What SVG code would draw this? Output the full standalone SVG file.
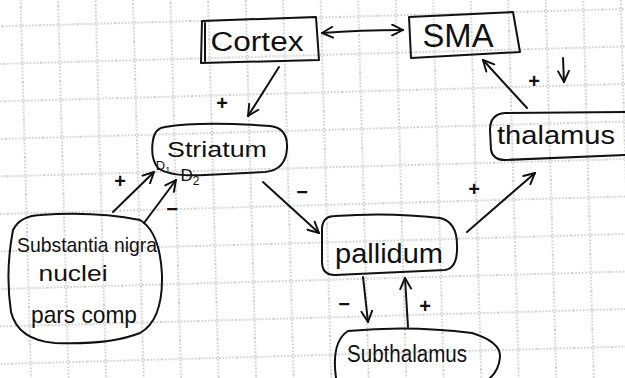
<svg xmlns="http://www.w3.org/2000/svg" width="625" height="378" viewBox="0 0 625 378">
  <defs>
    <pattern id="grid" width="37.5" height="37.5" patternUnits="userSpaceOnUse" patternTransform="rotate(-1.6) translate(1.75 7.65)">
      <path d="M0 18.75 H37.5 M18.75 0 V37.5" stroke="#9a9a9a" stroke-width="1" stroke-dasharray="1.5 1.8" fill="none"/>
    </pattern>
    <marker id="head" viewBox="0 0 12 12" refX="11" refY="6" markerWidth="13" markerHeight="13" markerUnits="userSpaceOnUse" orient="auto-start-reverse">
      <path d="M1 1 L11 6 L1 11" fill="none" stroke="#111" stroke-width="1.8" stroke-linecap="round" stroke-linejoin="round"/>
    </marker>
  </defs>
  <style>
    .ink { fill: none; stroke: #111; stroke-width: 2; stroke-linecap: round; stroke-linejoin: round; }
    .edge { fill: none; stroke: #111; stroke-width: 2; stroke-linecap: round; marker-end: url(#head); }
    .lbl { font-family: "Liberation Sans", Arial, sans-serif; fill: #111; text-anchor: middle; }
    .sign { font-family: "Liberation Sans", Arial, sans-serif; fill: #111; font-size: 20px; font-weight: bold; text-anchor: middle; }
  </style>

  <rect width="625" height="378" fill="#fff"/>
  <rect width="625" height="378" fill="url(#grid)"/>

  <!-- nodes -->
  <g id="cortex">
    <path class="ink" d="M202 21 L316 17 L319 60 L201 63 Z"/>
    <path class="ink" d="M205 23 L205 61"/>
    <text class="lbl" x="257" y="51" font-size="27" textLength="93" lengthAdjust="spacingAndGlyphs">Cortex</text>
  </g>

  <g id="sma">
    <path class="ink" d="M409 17 L513 12 L520 52 L411 58 Z"/>
    <text class="lbl" x="458" y="47" font-size="34" textLength="71" lengthAdjust="spacingAndGlyphs">SMA</text>
  </g>

  <g id="striatum">
    <path class="ink" d="M165 127 Q200 121 270 126 Q288 128 287 148 Q286 170 265 172 L205 175 Q170 177 158 168 Q150 158 153 140 Q155 128 165 127 Z"/>
    <text class="lbl" x="217" y="157" font-size="22" textLength="100" lengthAdjust="spacingAndGlyphs">Striatum</text>
    <text class="lbl" x="163" y="170" font-size="13">D<tspan font-size="9" dy="3">1</tspan></text>
    <text class="lbl" x="190" y="181" font-size="17">D<tspan font-size="12" dy="4">2</tspan></text>
  </g>

  <g id="thalamus">
    <path class="ink" d="M625 112 L505 113 Q490 114 490 130 L491 150 Q493 160 505 160 L625 155"/>
    <text class="lbl" x="556" y="144" font-size="25" textLength="118" lengthAdjust="spacingAndGlyphs">thalamus</text>
  </g>

  <g id="pallidum">
    <path class="ink" d="M335 216 Q390 212 440 218 Q457 222 457 245 Q458 268 445 270 L335 275 Q322 275 322 262 L322 228 Q323 216 335 216 Z"/>
    <text class="lbl" x="389" y="263" font-size="27" textLength="108" lengthAdjust="spacingAndGlyphs">pallidum</text>
  </g>

  <g id="substantia-nigra">
    <path class="ink" d="M13 230 Q20 216 40 215 Q95 211 140 220 Q160 232 162 275 Q163 320 140 333 Q110 345 55 343 Q18 340 11 312 Q5 272 13 230 Z"/>
    <text class="lbl" x="87" y="252" font-size="21" textLength="140" lengthAdjust="spacingAndGlyphs">Substantia nigra</text>
    <text class="lbl" x="73" y="281" font-size="22" textLength="69" lengthAdjust="spacingAndGlyphs">nuclei</text>
    <text class="lbl" x="84" y="323" font-size="24" textLength="106" lengthAdjust="spacingAndGlyphs">pars comp</text>
  </g>

  <g id="subthalamus">
    <path class="ink" d="M336 378 Q331 342 348 331 Q410 325 472 333 Q501 342 500 357 Q499 370 490 378"/>
    <text class="lbl" x="407" y="362" font-size="23" textLength="120" lengthAdjust="spacingAndGlyphs">Subthalamus</text>
  </g>

  <!-- connectors -->
  <g id="connectors">
    <path class="edge" d="M322 33 Q360 30 403 30" marker-start="url(#head)"/>
    <path class="edge" d="M279 67 L248 116"/>
    <path class="edge" d="M527 108 L483 60"/>
    <path class="edge" d="M263 182 L319 233"/>
    <path class="edge" d="M467 232 L535 173"/>
    <path class="edge" d="M113 212 L154 172"/>
    <path class="edge" d="M144 223 L176 180"/>
    <path class="edge" d="M363 277 L368 322"/>
    <path class="edge" d="M408 327 L405 278"/>
  </g>

  <!-- signs on the connectors -->
  <g id="signs">
    <text class="sign" x="222" y="110">+</text>
    <text class="sign" x="534" y="88">+</text>
    <path class="edge" d="M563 58 L564 82"/>
    <text class="sign" x="120" y="188">+</text>
    <text class="sign" x="172" y="216">−</text>
    <text class="sign" x="302" y="199">−</text>
    <text class="sign" x="474" y="196">+</text>
    <text class="sign" x="344" y="311">−</text>
    <text class="sign" x="425" y="313">+</text>
  </g>
</svg>
